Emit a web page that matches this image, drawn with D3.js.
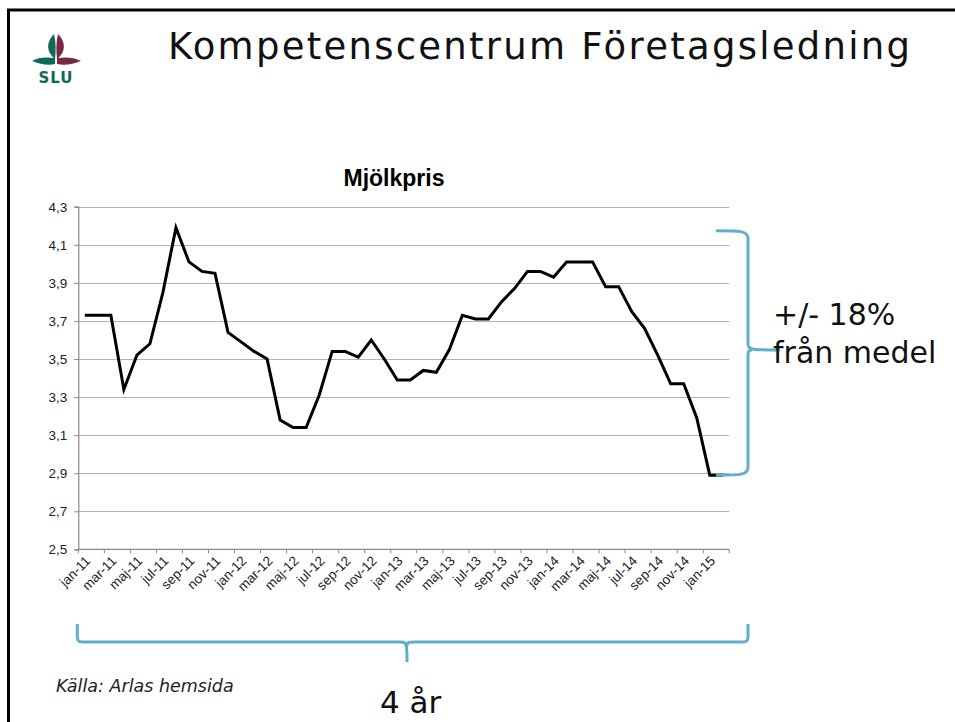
<!DOCTYPE html>
<html>
<head>
<meta charset="utf-8">
<script src="https://cdn.jsdelivr.net/npm/d3@7"></script>
<style>
  html, body { margin: 0; padding: 0; background: #fff; }
  svg { display: block; }
</style>
</head>
<body>
<div id="app"></div>
<script>
// months jan-11 .. feb-15
const monthNames = ['jan', 'feb', 'mar', 'apr', 'maj', 'jun', 'jul', 'aug', 'sep', 'okt', 'nov', 'dec'];
const years = ['11', '12', '13', '14', '15'];
const categories = [];
years.forEach(y => monthNames.forEach(m => categories.push(m + '-' + y)));
categories.length = 50;

// Mjölkpris, kr/kg
const prices = [
	3.73, 3.73, 3.73, 3.34, 3.52, 3.58, 3.85, 4.19, 4.01, 3.96, 3.95, 3.64,
	3.59, 3.54, 3.50, 3.18, 3.14, 3.14, 3.31, 3.54, 3.54, 3.51, 3.60, 3.50,
	3.39, 3.39, 3.44, 3.43, 3.55, 3.73, 3.71, 3.71, 3.80, 3.87, 3.96, 3.96,
	3.93, 4.01, 4.01, 4.01, 3.88, 3.88, 3.75, 3.66, 3.52, 3.37, 3.37, 3.19,
	2.89, 2.89
];

const yTicks = [2.5, 2.7, 2.9, 3.1, 3.3, 3.5, 3.7, 3.9, 4.1, 4.3];

const W = 955, H = 722;
const BRACE = '#5eb1c9';

const svg = d3.select('#app').append('svg')
	.attr('width', W)
	.attr('height', H);

// slide frame (only left and top edges are visible)
svg.append('path')
	.attr('d', `M8.5,${H} V10 H${W}`)
	.attr('fill', 'none')
	.attr('stroke', '#000')
	.attr('stroke-width', 3);

// SLU logo
const logo = svg.append('g');
logo.append('path')
	.attr('d', 'M54,34 C46,42 46,52 55,59 C56,50 56,42 54,34 Z')
	.attr('fill', '#0e6a55');
logo.append('path')
	.attr('d', 'M58,34 C66,42 66,52 57,59 C56,50 56,42 58,34 Z')
	.attr('fill', '#7a2841');
logo.append('path')
	.attr('d', 'M55,58 C47,57 38,57 32,61 C40,64 48,66 55,64 Z')
	.attr('fill', '#0e6a55');
logo.append('path')
	.attr('d', 'M57,58 C65,57 74,57 81,61 C73,64 65,66 57,64 Z')
	.attr('fill', '#7a2841');
logo.append('text')
	.attr('x', 56)
	.attr('y', 83)
	.attr('text-anchor', 'middle')
	.attr('font-family', 'DejaVu Sans, sans-serif')
	.attr('font-weight', 'bold')
	.attr('font-size', 15)
	.attr('letter-spacing', 1)
	.attr('fill', '#0e6a55')
	.text('SLU');

// slide title
svg.append('text')
	.attr('x', 168)
	.attr('y', 59)
	.attr('textLength', 742)
	.attr('lengthAdjust', 'spacing')
	.attr('font-family', 'DejaVu Sans, sans-serif')
	.attr('font-size', 37)
	.attr('fill', '#111')
	.text('Kompetenscentrum Företagsledning');

// chart
const x = d3.scaleBand()
	.domain(categories)
	.range([78.3, 729.3])
	.padding(0);
const y = d3.scaleLinear()
	.domain([2.5, 4.3])
	.range([549.4, 206.7]);
const cx = d => x(d) + x.bandwidth() / 2;

const fmt = d3.formatLocale({ decimal: ',', thousands: ' ', grouping: [3], currency: ['', ' kr'] }).format('.1f');

svg.append('text')
	.attr('x', 394)
	.attr('y', 186)
	.attr('text-anchor', 'middle')
	.attr('font-family', 'Liberation Sans, Arial, sans-serif')
	.attr('font-weight', 'bold')
	.attr('font-size', 23)
	.text('Mjölkpris');

// horizontal gridlines
svg.append('g').selectAll('line')
	.data(yTicks.slice(1))
	.join('line')
		.attr('x1', x.range()[0])
		.attr('x2', x.range()[1])
		.attr('y1', d => Math.round(y(d)) + 0.5)
		.attr('y2', d => Math.round(y(d)) + 0.5)
		.attr('stroke', '#b4b4b4')
		.attr('stroke-width', 1.2);

// y axis
const yAxis = svg.append('g')
	.attr('transform', `translate(${x.range()[0]},0)`)
	.call(d3.axisLeft(y).tickValues(yTicks).tickFormat(fmt).tickSize(4).tickPadding(7));
yAxis.select('.domain').attr('stroke', '#8a8a8a').attr('stroke-width', 1.2);
yAxis.selectAll('.tick line').attr('stroke', '#8a8a8a');
yAxis.selectAll('.tick text')
	.attr('font-family', 'Liberation Sans, Arial, sans-serif')
	.attr('font-size', 13.5)
	.attr('fill', '#222');

// x axis line and ticks (between categories, every second month)
const xTickIdx = d3.range(0, categories.length + 1, 2);
svg.append('line')
	.attr('x1', x.range()[0])
	.attr('x2', x.range()[1])
	.attr('y1', y(2.5))
	.attr('y2', y(2.5))
	.attr('stroke', '#8a8a8a')
	.attr('stroke-width', 1.2);
svg.append('g').selectAll('line')
	.data(xTickIdx)
	.join('line')
		.attr('x1', i => i < categories.length ? x(categories[i]) : x.range()[1])
		.attr('x2', i => i < categories.length ? x(categories[i]) : x.range()[1])
		.attr('y1', y(2.5))
		.attr('y2', y(2.5) + 4)
		.attr('stroke', '#8a8a8a');

svg.append('g').selectAll('text')
	.data(categories.filter((d, i) => i % 2 === 0))
	.join('text')
		.attr('transform', d => `translate(${cx(d) + 3},${y(2.5) + 9}) rotate(-45)`)
		.attr('text-anchor', 'end')
		.attr('dy', '0.35em')
		.attr('font-family', 'Liberation Sans, Arial, sans-serif')
		.attr('font-size', 13.5)
		.attr('fill', '#222')
		.text(d => d);

// price line
const line = d3.line()
	.x((d, i) => cx(categories[i]))
	.y(d => y(d));
svg.append('path')
	.datum(prices)
	.attr('d', line)
	.attr('fill', 'none')
	.attr('stroke', '#000')
	.attr('stroke-width', 3)
	.attr('stroke-linejoin', 'miter');

// right brace: from the max down to the min price
const bTop = y(d3.max(prices)) + 3,
	bBot = y(d3.min(prices)),
	bMid = (bTop + bBot) / 2 - 3,
	bx = 748, bl = 716;
svg.append('path')
	.attr('d', `M${bl},${bTop} C${bx - 8},${bTop} ${bx},${bTop} ${bx},${bTop + 8}
		V${bMid - 6} C${bx},${bMid} ${bx + 4},${bMid} ${bx + 32},${bMid}
		M${bx + 4},${bMid} C${bx},${bMid} ${bx},${bMid + 2} ${bx},${bMid + 8}
		V${bBot - 8} C${bx},${bBot} ${bx - 8},${bBot} ${bl},${bBot}`)
	.attr('fill', 'none')
	.attr('stroke', BRACE)
	.attr('stroke-width', 3);

svg.append('text')
	.attr('font-family', 'DejaVu Sans, sans-serif')
	.attr('font-size', 30)
	.attr('fill', '#111')
	.selectAll('tspan')
	.data(['+/- 18%', 'från medel'])
	.join('tspan')
		.attr('x', 773)
		.attr('y', (d, i) => 325 + i * 38)
		.text(d => d);

// bottom brace: spans the four years
const hl = x.range()[0] - 1, hr = bx, hy = 642, hTop = 624,
	hMid = 407;
svg.append('path')
	.attr('d', `M${hl},${hTop} V${hy - 6} C${hl},${hy} ${hl + 2},${hy} ${hl + 8},${hy}
		H${hMid - 6} C${hMid},${hy} ${hMid},${hy + 2} ${hMid},${hy + 20}
		M${hMid},${hy + 4} C${hMid},${hy} ${hMid + 2},${hy} ${hMid + 8},${hy}
		H${hr - 8} C${hr - 2},${hy} ${hr},${hy} ${hr},${hy - 6} V${hTop}`)
	.attr('fill', 'none')
	.attr('stroke', BRACE)
	.attr('stroke-width', 3);

svg.append('text')
	.attr('x', 380)
	.attr('y', 713)
	.attr('font-family', 'DejaVu Sans, sans-serif')
	.attr('font-size', 31)
	.attr('fill', '#111')
	.text('4 år');

svg.append('text')
	.attr('x', 56)
	.attr('y', 692)
	.attr('font-family', 'DejaVu Sans, sans-serif')
	.attr('font-style', 'italic')
	.attr('font-size', 17.5)
	.attr('fill', '#222')
	.text('Källa: Arlas hemsida');
</script>
</body>
</html>
